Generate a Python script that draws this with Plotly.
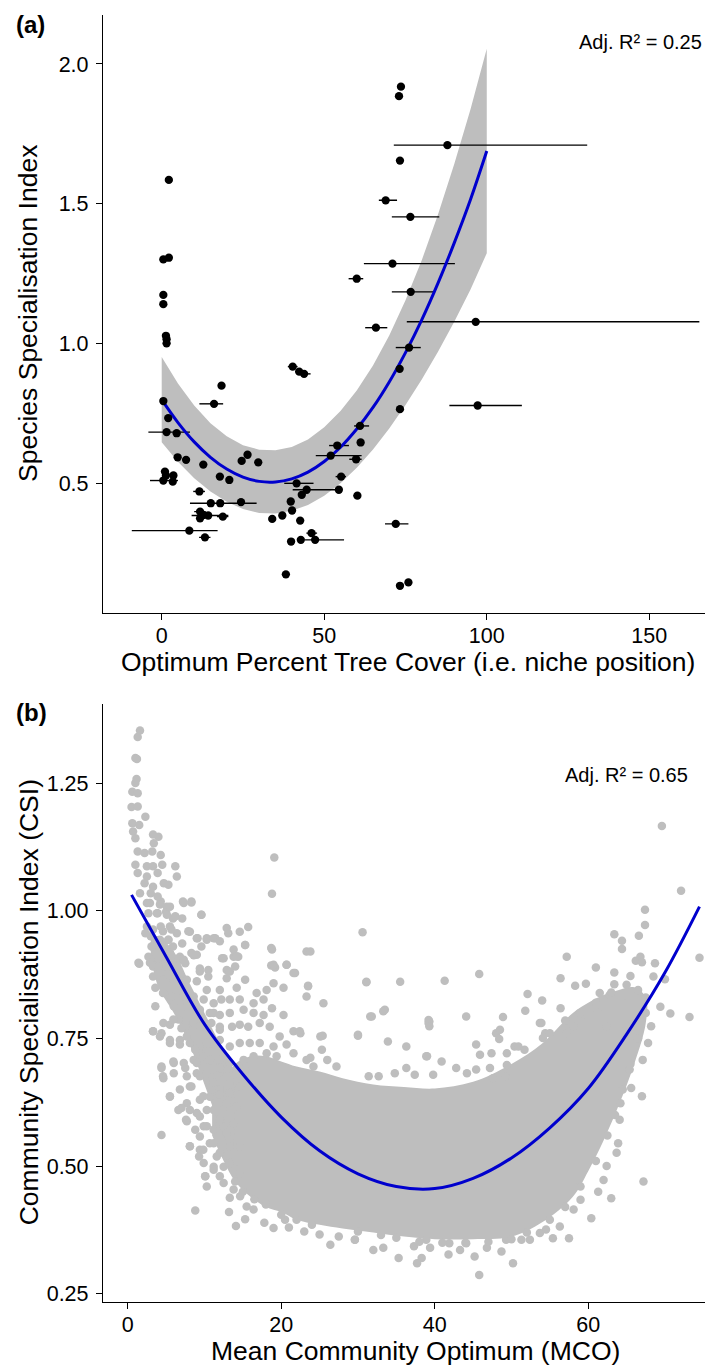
import plotly.graph_objects as go

FONT = "Liberation Sans, Arial, sans-serif"

# ---------------- Panel (a) data ----------------
species_x = [2.2, 0.5, 2.2, 0.5, 0.5, 1.3, 1.5, 1.5, 60.0, 73.6,
             73.0, 87.9, 73.3, 68.9, 76.5, 71.0, 76.6, 96.6, 65.9, 76.1,
             73.2, 97.2, 73.3, 72.0, 73.3, 75.9, 40.3, 42.3, 43.8, 18.4,
             16.1, 0.5, 2.0, 1.5, 4.6, 4.9, 7.5, 12.8, 1.0, 1.3,
             3.6, 0.5, 3.4, 17.9, 20.8, 24.6, 26.4, 29.7, 11.6, 15.1,
             18.0, 24.4, 11.8, 12.8, 14.3, 11.8, 18.8, 8.5, 13.3, 34.0,
             37.1, 39.7, 40.1, 42.6, 41.5, 43.1, 44.6, 54.5, 55.2, 60.2,
             52.0, 54.0, 59.8, 61.0, 61.2, 39.8, 42.8, 47.2, 46.1, 38.2]
species_y = [1.586, 1.302, 1.308, 1.175, 1.142, 1.029, 1.017, 1.002, 1.233, 1.919,
             1.885, 1.710, 1.655, 1.513, 1.454, 1.287, 1.186, 1.079, 1.058, 0.987,
             0.911, 0.780, 0.767, 0.357, 0.136, 0.148, 0.919, 0.901, 0.893, 0.851,
             0.786, 0.796, 0.735, 0.685, 0.681, 0.595, 0.586, 0.569, 0.544, 0.530,
             0.530, 0.512, 0.508, 0.526, 0.514, 0.582, 0.604, 0.577, 0.473, 0.431,
             0.431, 0.435, 0.401, 0.389, 0.387, 0.377, 0.383, 0.333, 0.309, 0.375,
             0.387, 0.437, 0.405, 0.369, 0.502, 0.461, 0.479, 0.479, 0.526, 0.458,
             0.601, 0.637, 0.588, 0.707, 0.648, 0.294, 0.300, 0.300, 0.324, 0.177]
# horizontal interval of each species optimum (None = no visible bar)
optimum_lo = [None, None, None, None, None, None, None, None, 57.5, None,
              None, 71.4, None, 66.8, 70.8, 62.2, 70.8, 75.4, 62.6, 72.0,
              None, 88.5, None, 68.7, None, None, 38.8, 41.0, 42.3, None,
              11.6, None, None, -4.1, None, None, None, None, None, None,
              None, -3.6, None, None, None, None, None, None, 9.7, 8.7,
              None, None, 10.0, None, 9.2, None, 17.0, -9.2, 11.5, None,
              None, None, None, None, 37.7, None, 40.3, None, 53.5, 59.0,
              47.4, 51.5, 57.7, 59.2, None, None, None, 44.0, 44.5, None]
optimum_hi = [None, None, None, None, None, None, None, None, 62.0, None,
              None, 130.9, None, 72.4, 85.4, 90.2, 83.8, 165.4, 69.4, 79.7,
              None, 110.8, None, 75.9, None, None, 41.8, 43.5, 45.8, None,
              18.9, None, None, 8.7, None, None, None, None, None, None,
              None, 5.0, None, None, None, None, None, None, 13.3, 29.2,
              None, None, 13.5, None, 20.5, None, 20.5, 17.2, 15.0, None,
              None, None, None, None, 46.7, None, 54.3, None, 56.7, 61.3,
              61.5, 57.6, 61.5, 63.8, None, None, None, 56.1, 47.8, None]

fit_a_x = [0, 5, 10, 15, 20, 25, 30, 35, 40, 45, 50,
           55, 60, 65, 70, 75, 80, 85, 90, 95, 100]
fit_a_y = [0.801, 0.719, 0.650, 0.595, 0.553, 0.524, 0.509, 0.507, 0.518, 0.542, 0.580,
           0.631, 0.696, 0.773, 0.864, 0.969, 1.086, 1.217, 1.361, 1.516, 1.689]
fit_a_lo = [0.649, 0.579, 0.520, 0.473, 0.436, 0.410, 0.396, 0.394, 0.404, 0.425, 0.458,
            0.502, 0.558, 0.623, 0.698, 0.782, 0.873, 0.972, 1.079, 1.194, 1.324]
fit_a_hi = [0.953, 0.859, 0.780, 0.717, 0.670, 0.638, 0.622, 0.620, 0.632, 0.659, 0.702,
            0.760, 0.834, 0.923, 1.030, 1.156, 1.299, 1.462, 1.643, 1.838, 2.054]

# ---------------- Panel (b) data ----------------
# dense core of the community cloud (upper / lower envelope)
core_x = [11, 12.5, 14, 16, 18, 20, 22, 25, 28, 32, 36, 40, 45, 50, 54, 58, 60, 62, 64, 66, 67.5]
core_hi = [0.63, 0.67, 0.70, 0.715, 0.715, 0.705, 0.695, 0.685, 0.672, 0.660, 0.655, 0.652,
           0.665, 0.700, 0.740, 0.800, 0.820, 0.835, 0.845, 0.850, 0.830]
core_lo = [0.56, 0.51, 0.47, 0.44, 0.42, 0.41, 0.395, 0.385, 0.378, 0.370, 0.362, 0.357,
           0.357, 0.362, 0.390, 0.440, 0.490, 0.550, 0.620, 0.700, 0.780]
# densest part of the low-MCO band (upper / lower envelope)
band_x = [3, 4, 6, 8, 10, 12, 13.5]
band_hi = [0.95, 0.95, 0.92, 0.86, 0.80, 0.74, 0.70]
band_lo = [0.91, 0.85, 0.80, 0.74, 0.66, 0.58, 0.53]

high_specialist_pts = [
    (1.6, 1.353), (1.3, 1.340), (1.0, 1.299), (1.2, 1.297), (1.15, 1.258), (1.0, 1.250),
    (0.6, 1.233), (1.3, 1.230), (0.5, 1.203), (1.3, 1.204), (2.3, 1.184), (0.6, 1.171),
    (1.5, 1.168), (0.7, 1.155), (1.0, 1.142), (3.3, 1.149), (4.0, 1.145), (3.4, 1.132),
    (1.3, 1.116), (2.2, 1.113), (3.2, 1.116), (4.3, 1.109), (1.0, 1.090), (2.5, 1.087),
    (3.3, 1.087), (4.5, 1.090), (6.2, 1.087), (1.3, 1.074), (2.5, 1.067), (3.9, 1.074),
    (6.4, 1.067), (2.2, 1.054), (3.3, 1.047), (4.7, 1.054), (5.3, 1.051), (1.6, 1.034),
    (3.0, 1.034), (3.9, 1.028), (2.5, 1.015), (4.3, 1.018), (5.1, 1.008), (7.2, 1.018),
    (8.3, 1.018), (2.7, 0.995), (3.9, 0.995), (5.0, 0.998), (5.9, 0.985), (7.1, 0.985),
    (9.6, 0.992), (2.5, 0.969), (4.3, 0.969), (5.5, 0.969), (6.4, 0.956), (3.0, 0.950),
    (4.3, 0.940), (5.3, 0.943), (8.1, 0.959), (9.1, 0.946), (10.3, 0.946), (11.4, 0.946),
    (12.9, 0.966), (13.1, 0.956), (14.6, 0.959), (15.7, 0.968), (3.2, 0.930), (4.8, 0.923),
    (5.9, 0.930), (7.1, 0.936), (9.6, 0.930), (15.3, 0.933), (18.7, 0.927), (2.7, 0.910),
    (4.0, 0.907), (5.5, 0.904), (6.8, 0.910), (8.6, 0.913), (12.3, 0.907), (13.8, 0.910),
    (14.4, 0.910), (23.3, 0.920), (1.5, 0.896), (3.3, 0.891), (5.0, 0.891), (7.5, 0.897),
    (9.4, 0.887), (12.9, 0.884), (14.0, 0.891), (18.7, 0.893), (20.7, 0.894), (21.8, 0.878),
    (19.2, 0.889), (19.1, 1.104), (18.8, 1.033), (30.6, 0.958),
]
low_mco_band_pts = [
    (2.9, 1.015), (4.2, 1.012), (5.5, 1.008), (3.8, 0.995), (5.1, 0.992), (6.2, 0.989),
    (7.3, 1.015), (8.3, 1.016), (9.6, 0.992), (2.3, 0.956), (3.3, 0.963), (4.6, 0.960),
    (5.7, 0.963), (4.2, 0.943), (5.3, 0.943), (3.1, 0.930), (4.4, 0.924), (5.5, 0.917),
    (6.8, 0.904), (7.9, 0.960), (9.0, 0.946), (10.3, 0.943), (11.2, 0.946), (12.0, 0.940),
    (15.3, 0.933), (13.8, 0.924), (14.2, 0.911), (12.5, 0.907), (9.0, 0.914), (8.3, 0.917),
    (7.3, 0.904), (1.4, 0.898), (2.9, 0.898), (4.0, 0.891), (5.1, 0.891), (6.0, 0.884),
    (9.4, 0.881), (10.5, 0.884), (13.3, 0.881), (12.9, 0.868), (10.5, 0.871), (3.3, 0.871),
    (4.6, 0.865), (6.0, 0.865), (7.7, 0.865), (9.0, 0.862), (10.3, 0.845), (12.0, 0.845),
    (14.2, 0.849), (15.3, 0.865), (16.8, 0.839), (18.1, 0.845), (18.8, 0.924), (19.0, 0.894),
    (20.7, 0.894), (21.6, 0.878), (19.0, 0.858), (20.3, 0.849), (23.5, 0.853), (23.3, 0.832),
    (23.8, 0.920), (3.6, 0.849), (4.6, 0.839), (5.7, 0.832), (7.3, 0.832), (8.6, 0.832),
    (9.9, 0.826), (11.2, 0.819), (12.2, 0.826), (13.3, 0.826), (14.6, 0.826), (16.4, 0.819),
    (17.7, 0.826), (18.8, 0.809), (3.6, 0.813), (6.0, 0.813), (7.7, 0.813), (9.4, 0.806),
    (10.7, 0.800), (12.0, 0.796), (13.3, 0.800), (15.1, 0.806), (16.4, 0.800), (17.7, 0.796),
    (20.3, 0.796), (3.3, 0.764), (4.4, 0.760), (5.5, 0.777), (6.6, 0.787), (7.5, 0.773),
    (8.6, 0.780), (9.4, 0.773), (10.9, 0.780), (12.0, 0.773), (13.6, 0.773), (14.6, 0.777),
    (15.7, 0.773), (17.2, 0.780), (18.5, 0.773), (21.6, 0.764), (22.5, 0.760), (19.8, 0.754),
    (25.1, 0.754), (4.2, 0.754), (5.5, 0.747), (6.8, 0.747), (8.1, 0.741), (9.4, 0.734),
    (10.7, 0.741), (12.0, 0.747), (13.3, 0.734), (14.6, 0.741), (15.9, 0.741), (17.2, 0.741),
    (19.0, 0.734), (20.7, 0.738), (4.4, 0.695), (6.0, 0.702), (7.3, 0.702), (8.6, 0.708),
    (9.9, 0.715), (11.2, 0.702), (12.0, 0.708), (13.3, 0.702), (15.1, 0.708), (16.4, 0.715),
    (18.1, 0.721), (19.4, 0.715), (21.6, 0.721), (23.3, 0.708), (24.2, 0.695), (4.6, 0.676),
    (6.0, 0.682), (7.7, 0.676), (9.0, 0.682), (10.3, 0.682), (11.6, 0.676), (12.9, 0.689),
    (14.2, 0.682), (15.3, 0.689), (5.5, 0.636), (6.8, 0.650), (8.1, 0.656), (9.4, 0.630),
    (10.7, 0.636), (12.0, 0.650), (13.3, 0.643), (14.6, 0.656), (6.6, 0.610), (7.7, 0.623),
    (9.0, 0.604), (10.3, 0.610), (11.6, 0.617), (12.9, 0.617), (14.2, 0.617), (7.7, 0.588),
    (8.8, 0.571), (9.9, 0.578), (11.2, 0.571), (12.5, 0.578), (13.8, 0.584), (4.4, 0.561),
    (8.1, 0.539), (9.4, 0.532), (10.7, 0.545), (12.0, 0.526), (13.3, 0.539), (14.6, 0.539),
    (9.9, 0.506), (11.2, 0.499), (12.5, 0.499), (13.8, 0.506), (14.6, 0.486), (12.0, 0.480),
    (10.1, 0.480),
]
low_mco_pts = [
    (3.3, 0.764), (4.65, 0.780), (5.95, 0.787), (7.0, 0.770), (7.7, 0.754), (9.4, 0.793),
    (11.2, 0.800), (12.0, 0.767), (10.3, 0.741), (8.8, 0.728), (6.8, 0.738), (5.5, 0.741),
    (4.4, 0.692), (4.65, 0.672), (5.95, 0.705), (7.5, 0.692), (9.0, 0.702), (10.7, 0.708),
    (12.0, 0.692), (9.4, 0.676), (11.2, 0.663), (12.9, 0.676), (5.5, 0.637), (8.3, 0.656),
    (9.85, 0.637), (12.0, 0.640), (7.0, 0.614), (8.1, 0.610), (9.4, 0.597), (11.2, 0.610),
    (12.9, 0.623), (7.6, 0.591), (10.3, 0.578), (12.0, 0.591), (9.4, 0.558), (11.2, 0.545),
    (12.9, 0.565), (8.1, 0.539), (9.3, 0.519), (9.85, 0.532), (11.6, 0.519), (13.3, 0.506),
    (10.1, 0.480), (11.2, 0.493), (10.3, 0.460), (12.5, 0.467), (13.8, 0.454), (13.3, 0.438),
    (8.8, 0.413), (13.2, 0.410), (14.1, 0.383), (15.3, 0.396), (17.8, 0.389), (19.0, 0.379),
    (26.4, 0.346), (29.6, 0.356), (14.65, 0.441), (15.5, 0.421), (16.4, 0.415), (21.0, 0.380),
    (23.0, 0.372), (25.0, 0.366), (27.5, 0.362), (20.5, 0.395),
]
high_mco_pts = [
    (69.6, 1.166), (72.1, 1.039), (67.4, 1.002), (67.4, 0.972), (63.4, 0.954), (66.6, 0.951),
    (64.4, 0.941), (64.4, 0.925), (57.2, 0.910), (66.8, 0.910), (66.2, 0.902), (67.0, 0.899),
    (68.7, 0.897), (74.5, 0.908), (61.0, 0.889), (63.4, 0.879), (65.5, 0.872), (68.5, 0.871),
    (70.0, 0.866), (56.4, 0.868), (58.3, 0.853), (59.7, 0.857), (63.4, 0.856), (31.1, 0.861),
    (35.5, 0.861), (41.3, 0.863), (45.8, 0.876), (52.1, 0.837), (54.0, 0.824), (61.5, 0.839),
    (62.8, 0.835), (64.4, 0.832), (56.4, 0.809), (51.8, 0.804), (58.9, 0.799), (31.6, 0.793),
    (33.5, 0.806), (39.2, 0.786), (44.1, 0.793), (48.9, 0.792), (70.7, 0.799), (73.2, 0.792),
    (69.4, 0.812),
]
mid_mco_pts = [
    (31.8, 0.793), (33.3, 0.803), (39.2, 0.780), (30.0, 0.757), (33.9, 0.744), (36.3, 0.734),
    (39.0, 0.715), (40.9, 0.705), (45.4, 0.738), (48.0, 0.760), (48.4, 0.749), (50.4, 0.734),
    (51.7, 0.728), (53.7, 0.780), (54.1, 0.751), (55.5, 0.751), (57.2, 0.760), (58.1, 0.774),
    (59.0, 0.793), (61.2, 0.800), (62.4, 0.774), (65.0, 0.774), (68.2, 0.774), (67.8, 0.741),
    (67.1, 0.708), (65.4, 0.689), (65.6, 0.653), (67.0, 0.637), (64.2, 0.623), (67.2, 0.470),
    (63.0, 0.437), (61.3, 0.450), (60.4, 0.398), (57.5, 0.359), (55.4, 0.359), (54.5, 0.376),
    (56.3, 0.382), (58.1, 0.415), (59.0, 0.434), (62.0, 0.473), (62.4, 0.500), (63.7, 0.526),
    (63.9, 0.545), (64.1, 0.591), (45.8, 0.287), (50.2, 0.310), (37.7, 0.310), (38.3, 0.320),
    (35.3, 0.320), (32.0, 0.336), (33.3, 0.340), (41.8, 0.327), (45.2, 0.323), (48.7, 0.333),
    (46.8, 0.340), (29.6, 0.356), (37.3, 0.343), (39.4, 0.340), (43.3, 0.336), (51.3, 0.356),
    (52.4, 0.356), (49.3, 0.356), (53.7, 0.369), (38.9, 0.356), (41.9, 0.349), (44.1, 0.349),
    (23.5, 0.852), (25.5, 0.819), (31.1, 0.860), (39.3, 0.783), (39.3, 0.774), (30.0, 0.755),
    (38.9, 0.715), (48.5, 0.767), (45.9, 0.718), (47.4, 0.721), (49.4, 0.721), (50.9, 0.734),
    (53.9, 0.780), (54.4, 0.760), (25.4, 0.755), (22.4, 0.764), (25.3, 0.728), (23.8, 0.712),
    (26.0, 0.708), (27.2, 0.695), (36.3, 0.692), (31.4, 0.676), (32.7, 0.676), (34.8, 0.682),
    (37.4, 0.679), (39.8, 0.679), (42.8, 0.692), (44.2, 0.682), (45.4, 0.689), (47.2, 0.692),
    (47.6, 0.672), (49.2, 0.676), (49.4, 0.698),
]
core_edge_pts = [
    (14.0, 0.470), (15.0, 0.450), (16.5, 0.435), (18.0, 0.425), (20.0, 0.405), (22.0, 0.395),
    (24.0, 0.385), (30.0, 0.372), (33.0, 0.365), (35.0, 0.360), (38.0, 0.352), (41.0, 0.350),
    (44.0, 0.350), (47.0, 0.352), (50.0, 0.357), (52.0, 0.370), (55.0, 0.395), (57.0, 0.420),
    (59.0, 0.460), (61.0, 0.510), (62.5, 0.560), (63.5, 0.600), (64.5, 0.650), (65.5, 0.700),
    (66.5, 0.750), (67.5, 0.800), (55.0, 0.760), (57.0, 0.785), (59.0, 0.800), (61.0, 0.820),
    (63.0, 0.840), (65.0, 0.855), (66.5, 0.845), (67.5, 0.830),
]

fit_b_x = [0.5, 5, 10, 15, 20, 25, 30, 35, 40, 45, 50, 55, 60, 65, 70, 74.5]
fit_b_y = [1.031, 0.910, 0.778, 0.680, 0.596, 0.530, 0.485, 0.460, 0.456, 0.476,
           0.516, 0.575, 0.652, 0.758, 0.879, 1.008]

x_ticks_a = [0, 50, 100, 150]
y_ticks_a = [0.5, 1.0, 1.5, 2.0]
y_ticklabels_a = ["0.5", "1.0", "1.5", "2.0"]
x_ticks_b = [0, 20, 40, 60]
y_ticks_b = [0.25, 0.50, 0.75, 1.00, 1.25]
y_ticklabels_b = ["0.25", "0.50", "0.75", "1.00", "1.25"]

BLUE = "#0000CD"
GREY = "#BEBEBE"

fig = go.Figure()

# ---- panel (a)
fig.add_trace(go.Scatter(
    x=fit_a_x + fit_a_x[::-1], y=fit_a_hi + fit_a_lo[::-1],
    fill="toself", fillcolor=GREY, line=dict(width=0), mode="lines",
    hoverinfo="skip", showlegend=False, xaxis="x", yaxis="y"))

seg_x, seg_y = [], []
for lo, hi, yy in zip(optimum_lo, optimum_hi, species_y):
    if lo is None:
        continue
    seg_x += [lo, hi, None]
    seg_y += [yy, yy, None]
fig.add_trace(go.Scatter(x=seg_x, y=seg_y, mode="lines",
                         line=dict(color="black", width=1.4),
                         showlegend=False, hoverinfo="skip", xaxis="x", yaxis="y"))

fig.add_trace(go.Scatter(x=fit_a_x, y=fit_a_y, mode="lines",
                         line=dict(color=BLUE, width=3, shape="spline"),
                         showlegend=False, xaxis="x", yaxis="y"))

fig.add_trace(go.Scatter(x=species_x, y=species_y, mode="markers",
                         marker=dict(color="black", size=8.3),
                         showlegend=False, xaxis="x", yaxis="y"))

# ---- panel (b)
for ex, ehi, elo in ((core_x, core_hi, core_lo), (band_x, band_hi, band_lo)):
    fig.add_trace(go.Scatter(
        x=ex + ex[::-1], y=ehi + elo[::-1],
        fill="toself", fillcolor=GREY, line=dict(width=0, shape="spline"), mode="lines",
        hoverinfo="skip", showlegend=False, xaxis="x2", yaxis="y2"))

for grp in (high_specialist_pts, low_mco_band_pts, low_mco_pts, high_mco_pts,
            mid_mco_pts, core_edge_pts):
    fig.add_trace(go.Scatter(x=[p[0] for p in grp], y=[p[1] for p in grp], mode="markers",
                             marker=dict(color=GREY, size=8.5),
                             showlegend=False, xaxis="x2", yaxis="y2"))

fig.add_trace(go.Scatter(x=fit_b_x, y=fit_b_y, mode="lines",
                         line=dict(color=BLUE, width=3, shape="spline"),
                         showlegend=False, xaxis="x2", yaxis="y2"))

axis_common = dict(showline=True, linecolor="black", linewidth=1.3, ticks="outside",
                   ticklen=6, tickwidth=1.3, tickcolor="black", showgrid=False,
                   zeroline=False, tickfont=dict(family=FONT, size=21.5, color="black"))

# the page body has an 8 px margin: lay the figure out in reference pixels minus that offset
OFF = 8
W, H = 713 - OFF, 1367 - OFF
L, T = 103 - OFF, 15 - OFF
B = H - (1302.3 - OFF)
plot_h = H - T - B
plot_w = W - L


def py2paper(py_ref):
    return (H - B - (py_ref - OFF)) / plot_h


def px2paper(px_ref):
    return (px_ref - OFF - L) / plot_w


fig.update_layout(
    width=W, height=H,
    margin=dict(l=L, r=0, t=T, b=B, autoexpand=False),
    paper_bgcolor="white", plot_bgcolor="white",
    font=dict(family=FONT, color="black"),
    xaxis=dict(domain=[0, 1], anchor="y", range=[-18.06, 169.6],
               tickvals=x_ticks_a, ticklabelstandoff=-3, **axis_common),
    yaxis=dict(domain=[py2paper(613.3), 1], anchor="x", range=[0.0382, 2.175],
               tickvals=y_ticks_a, ticktext=y_ticklabels_a, ticklabelstandoff=3,
               **axis_common),
    xaxis2=dict(domain=[0, 1], anchor="y2", range=[-3.22, 76.26],
                tickvals=x_ticks_b, ticklabelstandoff=-3, **axis_common),
    yaxis2=dict(domain=[0, py2paper(704)], anchor="x2", range=[0.234, 1.405],
                tickvals=y_ticks_b, ticktext=y_ticklabels_b, ticklabelstandoff=3,
                **axis_common),
)

ann = []


def add_text(text, px, py, size, bold=False, angle=0, xanchor="center"):
    ann.append(dict(text=f"<b>{text}</b>" if bold else text,
                    x=px2paper(px), y=py2paper(py), xref="paper", yref="paper",
                    showarrow=False, xanchor=xanchor, yanchor="middle", textangle=angle,
                    font=dict(family=FONT, size=size, color="black")))


add_text("(a)", 30, 25, 24, bold=True)
add_text("(b)", 31, 713, 24, bold=True)
add_text("Adj. R² = 0.25", 704, 42, 20, xanchor="right")
add_text("Adj. R² = 0.65", 690, 775, 20, xanchor="right")
add_text("Optimum Percent Tree Cover (i.e. niche position)", 407.5, 662, 26.5)
add_text("Mean Community Optimum (MCO)", 415, 1351, 26.5)
add_text("Species Specialisation Index", 28, 314, 26.5, angle=-90)
add_text("Community Specialisation Index (CSI)", 28.5, 1003, 26.5, angle=-90)

fig.update_layout(annotations=ann)

fig.write_html("out.html")
